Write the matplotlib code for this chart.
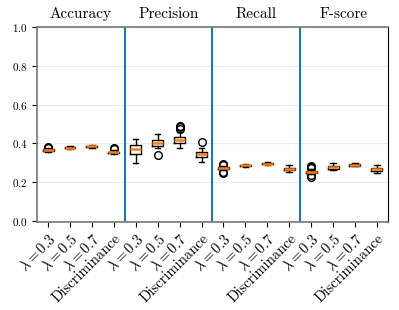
import matplotlib
matplotlib.use('agg')
import matplotlib.pyplot as plt
import matplotlib.transforms as mtransforms

plt.rcParams['font.family'] = 'serif'
plt.rcParams['font.serif'] = ['cmr10']
plt.rcParams['mathtext.fontset'] = 'cm'
plt.rcParams['axes.unicode_minus'] = False
plt.rcParams['axes.formatter.use_mathtext'] = True

groups = ['Accuracy', 'Precision', 'Recall', 'F-score']
methods = [r'$\lambda = 0.3$', r'$\lambda = 0.5$', r'$\lambda = 0.7$', 'Discriminance']

# per box, in order: 4 groups x 4 methods
med = [0.368, 0.378, 0.386, 0.354,
       0.371, 0.400, 0.420, 0.344,
       0.272, 0.287, 0.296, 0.268,
       0.254, 0.276, 0.290, 0.267]
q1 = [0.363, 0.375, 0.382, 0.350,
      0.344, 0.385, 0.403, 0.332,
      0.268, 0.283, 0.292, 0.262,
      0.249, 0.270, 0.286, 0.260]
q3 = [0.371, 0.381, 0.389, 0.358,
      0.390, 0.417, 0.432, 0.355,
      0.276, 0.291, 0.299, 0.274,
      0.258, 0.283, 0.294, 0.274]
whislo = [0.358, 0.371, 0.378, 0.346,
          0.300, 0.374, 0.374, 0.306,
          0.262, 0.278, 0.288, 0.252,
          0.244, 0.262, 0.281, 0.247]
whishi = [0.376, 0.385, 0.393, 0.364,
          0.424, 0.446, 0.460, 0.376,
          0.282, 0.295, 0.303, 0.288,
          0.266, 0.298, 0.299, 0.289]
fliers = [[0.382, 0.378], [], [], [0.372, 0.376],
          [], [0.338], [0.475, 0.483, 0.490], [0.409],
          [0.288, 0.292, 0.250, 0.245], [], [], [],
          [0.272, 0.278, 0.284, 0.236, 0.227], [], [], []]


def main():
    fig = plt.figure(figsize=(3.99, 3.10), dpi=100)
    ax = fig.add_axes([0.093, 0.284, 0.879, 0.629])

    stats = []
    for i in range(len(med)):
        stats.append(dict(med=med[i], q1=q1[i], q3=q3[i],
                          whislo=whislo[i], whishi=whishi[i],
                          fliers=fliers[i]))
    ax.bxp(stats, positions=range(1, len(stats) + 1), widths=0.5,
           boxprops=dict(color='black', lw=1),
           whiskerprops=dict(color='black', lw=1),
           capprops=dict(color='black', lw=1),
           medianprops=dict(color='C1', lw=1.8),
           flierprops=dict(marker='o', markerfacecolor='none',
                           markeredgecolor='black', markersize=5.5, lw=0))

    for x in [4.5, 8.5, 12.5]:
        ax.axvline(x, color='#1f77b4', lw=1.5)

    trans = mtransforms.blended_transform_factory(ax.transData, ax.transAxes)
    for i, g in enumerate(groups):
        ax.text(4 * i + 2.5, 1.03, g, transform=trans, ha='center',
                va='bottom', fontsize=11)

    ax.set_xlim(0.5, 16.5)
    ax.set_ylim(-0.005, 1.0)
    ax.set_yticks([0.0, 0.2, 0.4, 0.6, 0.8, 1.0])
    ax.tick_params(axis='y', labelsize=8)
    ax.set_xticks(range(1, 17))
    ax.set_xticklabels(methods * 4, rotation=45, ha='right',
                       rotation_mode='anchor', fontsize=10.5)
    ax.yaxis.grid(True, color='#ebebeb', lw=0.8)
    ax.set_axisbelow(True)
    for s in ['left', 'bottom', 'top']:
        ax.spines[s].set_color('#777777')
        ax.spines[s].set_linewidth(1.2)
    ax.spines['right'].set_color('black')

    fig.savefig('out.png', dpi=100)


if __name__ == '__main__':
    main()
